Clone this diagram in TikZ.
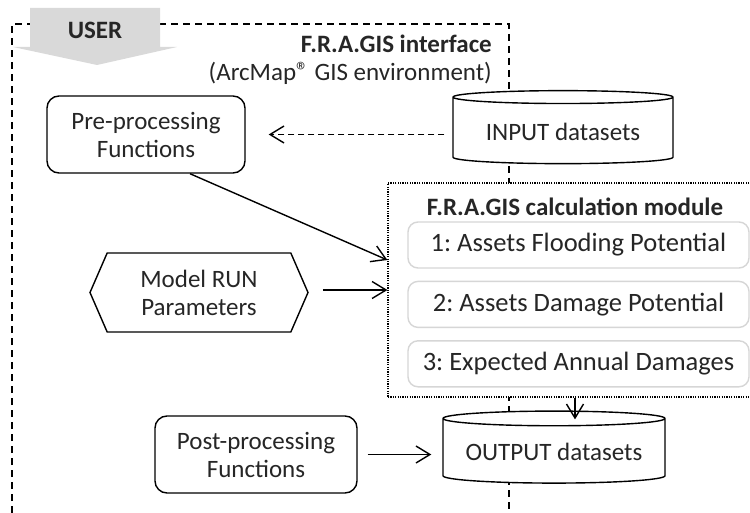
\documentclass[tikz,border=0pt]{standalone}
\usepackage{fontspec}
\setmainfont{Carlito}
\usetikzlibrary{shapes.geometric, shapes.symbols, arrows.meta, positioning}

\definecolor{usergray}{HTML}{D9D9D9}
\definecolor{txtgray}{HTML}{262626}
\definecolor{stepgray}{HTML}{D6D6D6}

\frenchspacing

\begin{document}
\begin{tikzpicture}[
    x=1pt, y=-1pt,
    font=\fontsize{25}{28}\selectfont, text=txtgray,
    box/.style={rectangle, draw, rounded corners=12pt, line width=1.4pt, align=center, fill=white},
    db/.style={cylinder, shape border rotate=90, aspect=0.08, draw, line width=1.4pt, fill=white},
    stepbox/.style={rectangle, draw=stepgray, rounded corners=10pt, line width=1.4pt, minimum width=341pt, minimum height=46pt, fill=white, font=\fontsize{26.5}{28}\selectfont},
    arrow/.style={-{Straight Barb[length=14pt, width=17pt]}, line width=1.4pt},
    frame/.style={dash pattern=on 7pt off 5pt, line width=1.4pt}
]
\useasboundingbox (0,0) rectangle (750,513);

% Interface frame and user arrow
\draw[frame] (12,513) -- (12,24) -- (509,24) -- (509,513);
\fill[usergray] (30,8) -- (160,8) -- (160,47) -- (177,47) -- (97,65) -- (13,47) -- (30,47) -- cycle;
\node[font=\fontsize{25}{28}\selectfont\bfseries] (user) at (95,30) {USER};

\node[anchor=base east, inner sep=0pt, font=\fontsize{25}{28}\selectfont\bfseries] (gui) at (492,53) {F.R.A.GIS interface};
\node[anchor=base east, inner sep=0pt] (arcmap) at (492,81) {(ArcMap\raisebox{1pt}{®} GIS environment)};

% Row 1: pre-processing and input data
\node[box, minimum width=198pt, minimum height=77pt] (pre) at (146,134.5) {Pre-processing\\Functions};
\node[db, minimum width=220pt, minimum height=73pt] (in) at (563,131.5) {\raisebox{-9pt}{INPUT datasets}};

% Calculation module
\node[draw, dash pattern=on 1.2pt off 1.2pt, line width=1.2pt, fill=white, minimum width=364pt, minimum height=214pt] (calc) at (570,290) {};
\node[font=\fontsize{25}{28}\selectfont\bfseries] (calctitle) at (575,207) {F.R.A.GIS calculation module};
\node[stepbox] (fp) at (578.5,245) {1: Assets Flooding Potential};
\node[stepbox, below=12pt of fp] (dp) {2: Assets Damage Potential};
\node[stepbox, below=12pt of dp] (ead) {3: Expected Annual Damages};

% Model parameters
\node[signal, signal to=west and east, signal pointer angle=133, draw, line width=1.4pt, align=center, minimum width=218pt, minimum height=79pt] (param) at (199,292.5) {Model RUN\\Parameters};

% Row 4: post-processing and output data
\node[box, minimum width=202pt, minimum height=77pt] (post) at (256,454.5) {Post-processing\\Functions};
\node[db, minimum width=222pt, minimum height=72pt] (out) at (554,452) {\raisebox{-10pt}{OUTPUT datasets}};

% Arrows
\draw[arrow, dash pattern=on 6pt off 4pt, shorten <=8pt, shorten >=23pt] (in.west |- pre.east) -- (pre.east);
\draw[arrow] ([xshift=44pt]pre.south) -- ([yshift=30pt]calc.west);
\draw[arrow, shorten <=14pt] (param.east |- calc.west) -- (calc.west);
\draw[arrow, shorten >=-9pt] ([xshift=5pt]calc.south) -- ([xshift=5pt]calc.south |- out.north);
\draw[arrow, shorten <=10pt, shorten >=11pt] (post.east) -- (post.east -| out.west);

\end{tikzpicture}
\end{document}
